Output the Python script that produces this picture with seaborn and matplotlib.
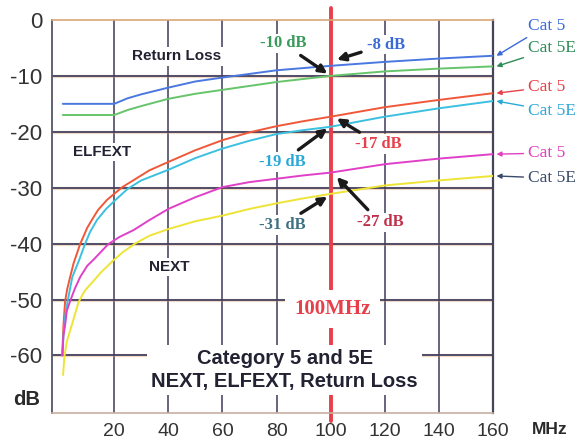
import pandas as pd
import seaborn as sns
import matplotlib
matplotlib.use("Agg")
import matplotlib.pyplot as plt
import matplotlib.patheffects as pe

# 回波损耗 Return Loss
rl_cat5_f = [1, 20, 25, 30, 40, 50, 60, 80, 100, 120, 140, 160]
rl_cat5_db = [-15, -15, -14.0, -13.3, -12.1, -11.0, -10.3, -9.0, -8.2, -7.5, -6.9, -6.4]
rl_cat5e_f = [1, 20, 25, 30, 40, 50, 60, 80, 100, 120, 140, 160]
rl_cat5e_db = [-17, -17, -16.1, -15.4, -14.1, -13.2, -12.5, -11.1, -10.0, -9.2, -8.7, -8.3]

# ELFEXT
elfext_cat5_f = [0.8, 1.2, 1.85, 2.7, 3.7, 5, 7.4, 10, 11.7, 14, 17.3, 20, 23, 27, 33,
                 40, 50, 60, 70, 80, 90, 100, 120, 140, 160]
elfext_cat5_db = [-60, -55, -50.3, -48, -46, -43.5, -40.1, -37.2, -35.8, -34, -32.2, -31.1,
                  -29.9, -28.7, -26.9, -25.4, -23.3, -21.5, -20.1, -19.0, -18.1, -17.3,
                  -15.6, -14.3, -13.1]
elfext_cat5e_f = [0.85, 1.3, 2, 2.8, 4.5, 7, 9.2, 11, 13.6, 17, 20.9, 25, 30, 40, 50, 60,
                  70, 80, 90, 100, 120, 140, 160]
elfext_cat5e_db = [-60, -56, -52.5, -50.3, -46, -43, -40.1, -38.0, -35.8, -33.8, -32.0,
                   -30.2, -28.7, -26.8, -24.7, -23.0, -21.6, -20.4, -19.7, -19.1, -17.3,
                   -15.8, -14.5]

# NEXT
next_cat5_f = [0.85, 1.2, 1.85, 2.5, 3.7, 5.5, 7.4, 10, 12.9, 17.8, 22, 27.1, 33, 40, 50,
               60, 70, 80, 90, 100, 120, 140, 160]
next_cat5_db = [-60, -56.6, -54.6, -52, -50.3, -48, -46, -44.0, -42.6, -40.1, -38.8, -37.6,
                -35.8, -33.8, -31.7, -29.9, -29.0, -28.4, -27.8, -27.3, -25.8, -24.8, -24.0]
next_cat5e_f = [1.1, 1.6, 2.5, 4.3, 6.8, 9, 12.5, 15, 19.7, 23, 27.7, 33, 40, 50, 60, 70,
                80, 90, 100, 120, 140, 160]
next_cat5e_db = [-63.5, -60.2, -57.5, -54.6, -50.5, -48.5, -46.6, -45.2, -43.0, -41.6,
                 -40.0, -38.6, -37.4, -36.0, -35.0, -33.8, -32.8, -31.9, -31.1, -29.6,
                 -28.7, -27.9]

series_names = ["RL Cat 5", "RL Cat 5E", "ELFEXT Cat 5", "ELFEXT Cat 5E",
                "NEXT Cat 5", "NEXT Cat 5E"]
series_f = [rl_cat5_f, rl_cat5e_f, elfext_cat5_f, elfext_cat5e_f, next_cat5_f, next_cat5e_f]
series_db = [rl_cat5_db, rl_cat5e_db, elfext_cat5_db, elfext_cat5e_db, next_cat5_db, next_cat5e_db]
line_colors = ["#4a78e0", "#66c46a", "#f0583a", "#3cc0e0", "#e040c8", "#eee436"]

# 右侧标签
end_labels = ["Cat 5", "Cat 5E", "Cat 5", "Cat 5E", "Cat 5", "Cat 5E"]
end_label_y = [-1.0, -5.1, -12.0, -16.3, -23.8, -28.3]
end_label_colors = ["#3a6ad8", "#2e8b57", "#e8404a", "#2aa8d8", "#e040c0", "#3a4a6a"]

# 100MHz 处的读数
marker_freq = 100
readings = ["-10 dB", "-8 dB", "-17 dB", "-19 dB", "-31 dB", "-27 dB"]
reading_db = [-9.6, -7.1, -17.6, -19.4, -31.6, -28.1]
reading_text_pos = [(82.4, -4.2), (120.4, -4.4), (117.8, -22.2), (82, -25.4), (82, -36.7), (118.2, -36.2)]
reading_colors = ["#3a9a5a", "#3a6ad8", "#e8404a", "#2aa8d8", "#3d7080", "#c0304a"]

df = pd.concat([pd.DataFrame({"freq": f, "db": d, "series": n})
                for n, f, d in zip(series_names, series_f, series_db)], ignore_index=True)

sns.set_style("white")
plt.rcParams["font.family"] = ["Liberation Sans", "DejaVu Sans"]
plt.rcParams["axes.unicode_minus"] = False

fig = plt.figure(figsize=(5.82, 4.41), dpi=100)
ax = fig.add_axes([0.0893, 0.0635, 0.7577, 0.8912])

sns.lineplot(data=df, x="freq", y="db", hue="series", hue_order=series_names,
             palette=dict(zip(series_names, line_colors)), estimator=None,
             legend=False, linewidth=1.4, ax=ax)
for line in ax.lines:
    line.set_zorder(4)

ax.set_xlim(-3, 160)
ax.set_ylim(-70.3, 0)
ax.set_xticks([20, 40, 60, 80, 100, 120, 140, 160])
ax.set_yticks([0, -10, -20, -30, -40, -50, -60])
ax.set_xlabel("")
ax.set_ylabel("")
ax.tick_params(axis="both", length=0, colors="#333333")
ax.tick_params(axis="y", labelsize=14.5, pad=7)
ax.tick_params(axis="x", labelsize=12.5, pad=7)
for t in ax.get_xticklabels() + ax.get_yticklabels():
    t.set_family(["Liberation Sans Narrow", "Liberation Sans", "DejaVu Sans"])
for t in ax.get_yticklabels():
    t.set_fontsize(16)
for t in ax.get_xticklabels():
    t.set_fontsize(14)

# 网格线
ax.set_axisbelow(True)
ax.grid(True, axis="y", color="#34345c", linewidth=1.2)
ax.grid(True, axis="x", color="#4a4a66", linewidth=1.2)
for gl in ax.get_ygridlines():
    gl.set_path_effects([pe.Stroke(linewidth=2.3, foreground="#e0a060", alpha=0.4), pe.Normal()])
ax.get_ygridlines()[0].set_visible(False)
ax.get_xgridlines()[-1].set_visible(False)

ax.spines["top"].set_color("#d8a878")
ax.spines["top"].set_linewidth(1.2)
ax.spines["bottom"].set_color("#c8b0a0")
ax.spines["bottom"].set_linewidth(1.2)
ax.spines["left"].set_color("#55556a")
ax.spines["left"].set_linewidth(1.3)
ax.spines["right"].set_color("#44445a")
ax.spines["right"].set_linewidth(1.6)

# 100MHz 竖线
ax.axvline(marker_freq, ymin=-0.02, ymax=1.03, color="#e8404a", linewidth=2.8,
           clip_on=False, zorder=2)

box = dict(boxstyle="square,pad=0.15", fc="white", ec="none")
ax.text(43, -6.5, "Return Loss", fontsize=11, fontweight="bold", color="#222233",
        ha="center", va="center", bbox=box, zorder=3)
ax.text(15.5, -23.6, "ELFEXT", fontsize=11, fontweight="bold", color="#222233",
        ha="center", va="center", bbox=box, zorder=3)
ax.text(40.3, -44.2, "NEXT", fontsize=11, fontweight="bold", color="#222233",
        ha="center", va="center", bbox=box, zorder=3)
ax.text(marker_freq + 0.8, -51.7, "100MHz", fontsize=15, fontweight="bold",
        family=["Liberation Serif", "DejaVu Serif"], color="#e8404a", ha="center", va="center",
        bbox=dict(boxstyle="square,pad=0.45", fc="white", ec="none"), zorder=3)
ax.text(83, -62.6, "Category 5 and 5E\nNEXT, ELFEXT, Return Loss", fontsize=14.5,
        fontweight="bold", color="#222233", ha="center", va="center", linespacing=1.3,
        bbox=dict(boxstyle="square,pad=0.2", fc="white", ec="none"), zorder=3)

for txt, yv, (tx, ty), c in zip(readings, reading_db, reading_text_pos, reading_colors):
    ax.annotate(txt, xy=(marker_freq + (-1.2 if tx < marker_freq else 2.3), yv),
                xytext=(tx, ty), fontsize=12, fontweight="bold",
                family=["Liberation Serif", "DejaVu Serif"], color=c,
                ha="center", va="center", zorder=5,
                bbox=dict(boxstyle="square,pad=0.1", fc="white", ec="none"),
                arrowprops=dict(arrowstyle="-|>", color="#1a1a1a", lw=2.4,
                                mutation_scale=12, shrinkA=3, shrinkB=0))

for lbl, ly, c, dbs in zip(end_labels, end_label_y, end_label_colors, series_db):
    ax.annotate(lbl, xy=(161.3, dbs[-1]), xytext=(173, ly), fontsize=12.5,
                family=["Liberation Serif", "DejaVu Serif"], color=c,
                ha="left", va="center", annotation_clip=False,
                arrowprops=dict(arrowstyle="-|>", color=c, lw=1.0,
                                mutation_scale=7, shrinkA=1, shrinkB=0))

fig.text(0.046, 0.093, "dB", fontsize=14.5, fontweight="bold", color="#2a2a2a",
         ha="center", va="center")
fig.text(0.945, 0.027, "MHz", fontsize=12.5, fontweight="bold", color="#2a2a2a",
         ha="center", va="center")

fig.savefig("out.png", dpi=100)
